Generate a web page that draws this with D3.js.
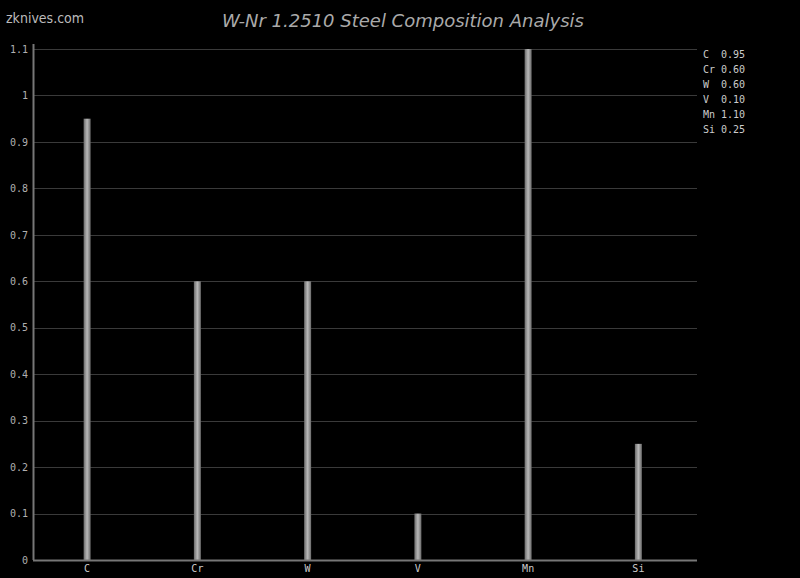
<!DOCTYPE html>
<html>
<head>
<meta charset="utf-8">
<script src="https://cdn.jsdelivr.net/npm/d3@7"></script>
<style>
  body { margin: 0; background: #000; }
  svg { display: block; }
</style>
</head>
<body>
<svg id="chart" width="800" height="578"></svg>
<script>
// element symbols and percentages for W-Nr 1.2510
var elements = ["C", "Cr", "W", "V", "Mn", "Si"];
var amounts = [0.95, 0.60, 0.60, 0.10, 1.10, 0.25];
var yTicks = [0, 0.1, 0.2, 0.3, 0.4, 0.5, 0.6, 0.7, 0.8, 0.9, 1, 1.1];

var margin = {top: 49, left: 33, right: 103, bottom: 18};
var width = 800, height = 578;
var innerWidth = width - margin.left - margin.right;
var innerHeight = height - margin.top - margin.bottom;

var svg = d3.select("#chart");
svg.append("rect").attr("width", width).attr("height", height).attr("fill", "#000");

// bar shading, darker on the sides
var grad = svg.append("defs").append("linearGradient")
    .attr("id", "barGrad").attr("x1", "0%").attr("x2", "100%");
grad.append("stop").attr("offset", "0%").attr("stop-color", "#6a6a6a");
grad.append("stop").attr("offset", "50%").attr("stop-color", "#b8b8b8");
grad.append("stop").attr("offset", "100%").attr("stop-color", "#6a6a6a");

var x = d3.scaleBand().domain(elements).range([-1, innerWidth - 3.5]);
var y = d3.scaleLinear().domain([0, 1.1]).range([innerHeight, 0]);

var g = svg.append("g").attr("transform", "translate(" + margin.left + "," + margin.top + ")");

// grid
g.selectAll(".grid").data(yTicks.slice(1)).enter().append("line")
    .attr("x1", 0).attr("x2", innerWidth)
    .attr("y1", function(d) { return Math.round(y(d)) + 0.5; })
    .attr("y2", function(d) { return Math.round(y(d)) + 0.5; })
    .attr("stroke", "#3a3a3a").attr("stroke-width", 1);

// bars
var barW = 7;
g.selectAll(".bar").data(amounts).enter().append("rect")
    .attr("x", function(d, i) { return x(elements[i]) + x.bandwidth() / 2 - barW / 2; })
    .attr("y", function(d) { return y(d); })
    .attr("width", barW)
    .attr("height", function(d) { return innerHeight - y(d); })
    .attr("fill", "url(#barGrad)");

// y axis
var yAxis = g.append("g").call(d3.axisLeft(y).tickValues(yTicks).tickSize(0).tickPadding(5)
    .tickFormat(function(d) { return d3.format("~g")(d); }));
yAxis.select(".domain").remove();
yAxis.selectAll("text").attr("fill", "#b0b0b0").style("font-family", "DejaVu Sans Mono, monospace").style("font-size", "10px");
g.append("line").attr("x1", 0.5).attr("x2", 0.5).attr("y1", -5).attr("y2", innerHeight)
    .attr("stroke", "#777").attr("stroke-width", 2);

// x axis
var xAxis = g.append("g").attr("transform", "translate(0," + innerHeight + ")")
    .call(d3.axisBottom(x).tickSize(0).tickPadding(5));
xAxis.select(".domain").remove();
xAxis.selectAll("text").attr("fill", "#ccc").style("font-family", "DejaVu Sans Mono, monospace").style("font-size", "10px");
g.append("line").attr("x1", 0).attr("x2", innerWidth).attr("y1", innerHeight + 0.5).attr("y2", innerHeight + 0.5)
    .attr("stroke", "#777").attr("stroke-width", 2);

// legend
var legend = svg.append("g").attr("transform", "translate(703,58)");
legend.selectAll("text").data(elements).enter().append("text")
    .attr("y", function(d, i) { return i * 15; })
    .attr("fill", "#ccc")
    .style("font-family", "DejaVu Sans Mono, monospace")
    .style("font-size", "10px")
    .attr("xml:space", "preserve")
    .text(function(d, i) { return (d + "   ").slice(0, 3) + amounts[i].toFixed(2); });

// title and site
svg.append("text").attr("x", 403).attr("y", 27).attr("text-anchor", "middle")
    .attr("fill", "#aaa").style("font-family", "DejaVu Sans, sans-serif")
    .style("font-size", "18px").style("font-style", "italic")
    .text("W-Nr 1.2510 Steel Composition Analysis");
svg.append("text").attr("x", 6).attr("y", 23)
    .attr("fill", "#bbb").style("font-family", "DejaVu Sans Condensed, DejaVu Sans, sans-serif")
    .style("font-size", "14px")
    .text("zknives.com");
</script>
</body>
</html>
